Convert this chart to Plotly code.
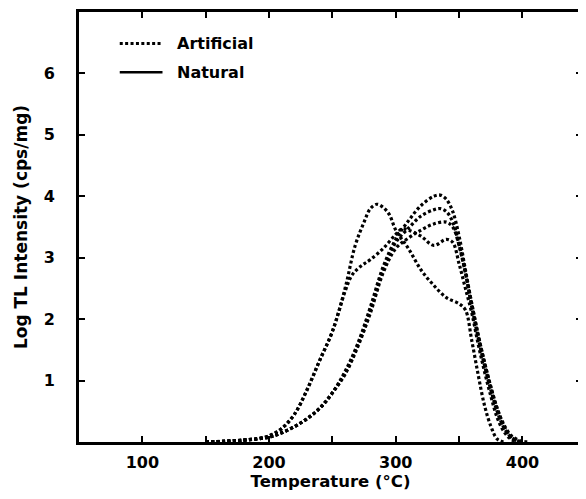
import plotly.graph_objects as go

# Artificial TL glow curves (temperature in C, log intensity)
temp_a = [150, 170, 190, 200, 210, 220, 230, 240, 250, 260, 268, 275, 280, 285, 290, 295, 300,
          310, 320, 330, 340, 350, 355, 360, 365, 370, 375, 380, 385]
log_a = [0.0, 0.02, 0.05, 0.1, 0.22, 0.45, 0.85, 1.33, 1.8, 2.5, 3.2, 3.58, 3.8, 3.87, 3.82, 3.7, 3.45,
         3.15, 2.8, 2.55, 2.35, 2.25, 2.15, 1.65, 1.1, 0.6, 0.26, 0.05, 0.0]

temp_e = [150, 180, 200, 210, 220, 230, 240, 250, 260, 265, 270, 275, 280, 290, 300, 305, 310,
          320, 330, 340, 345, 350, 355, 360, 365, 370, 375, 380, 385, 390, 395]
log_e = [0.0, 0.03, 0.1, 0.22, 0.45, 0.85, 1.33, 1.8, 2.45, 2.7, 2.82, 2.9, 2.97, 3.15, 3.38, 3.47, 3.45,
         3.35, 3.2, 3.3, 3.25, 2.9, 2.5, 2.1, 1.6, 1.15, 0.75, 0.4, 0.18, 0.06, 0.0]

temp_b = [150, 180, 200, 210, 220, 230, 240, 250, 260, 270, 280, 290, 300, 310, 320, 330, 335,
          340, 345, 350, 355, 360, 365, 370, 375, 380, 385, 390, 395, 400, 405]
log_b = [0.0, 0.03, 0.08, 0.15, 0.25, 0.38, 0.55, 0.8, 1.15, 1.6, 2.2, 2.85, 3.3, 3.6, 3.85, 4.0, 4.02,
         3.95, 3.75, 3.35, 2.8, 2.25, 1.75, 1.3, 0.9, 0.55, 0.3, 0.13, 0.05, 0.01, 0.0]

temp_c = [150, 180, 200, 210, 220, 230, 240, 250, 260, 270, 280, 290, 300, 310, 320, 330, 335,
          340, 345, 350, 355, 360, 365, 370, 375, 380, 385, 390, 395, 400]
log_c = [0.0, 0.03, 0.08, 0.15, 0.25, 0.38, 0.55, 0.8, 1.12, 1.58, 2.15, 2.8, 3.25, 3.48, 3.68, 3.78, 3.8,
         3.75, 3.58, 3.2, 2.75, 2.25, 1.75, 1.3, 0.9, 0.55, 0.28, 0.1, 0.02, 0.0]

temp_d = [150, 180, 200, 210, 220, 230, 240, 250, 260, 270, 280, 290, 300, 310, 320, 330, 340,
          345, 350, 355, 360, 365, 370, 375, 380, 385, 390, 395, 400]
log_d = [0.0, 0.03, 0.08, 0.15, 0.25, 0.38, 0.55, 0.8, 1.1, 1.55, 2.1, 2.75, 3.15, 3.32, 3.45, 3.55, 3.58,
         3.5, 3.2, 2.75, 2.2, 1.7, 1.25, 0.85, 0.5, 0.25, 0.1, 0.03, 0.0]

artificial = [(temp_a, log_a), (temp_e, log_e), (temp_b, log_b), (temp_c, log_c), (temp_d, log_d)]

x_ticks = [100, 200, 300, 400]
y_ticks = [1, 2, 3, 4, 5, 6]
legend_labels = ["Artificial", "Natural"]

font_family = "DejaVu Sans, Arial, sans-serif"
dot_dash = "3px,2.4px"

fig = go.Figure()
for t, v in artificial:
    fig.add_trace(go.Scatter(
        x=t, y=v, mode="lines", line_shape="spline",
        line=dict(color="black", width=3.2, dash=dot_dash),
        showlegend=False, hoverinfo="skip",
    ))

axis_style = dict(
    showline=True, linecolor="black", linewidth=2.6, mirror="allticks",
    ticks="inside", ticklen=6, tickwidth=2, tickcolor="black",
    showgrid=False, zeroline=False,
    tickfont=dict(family=font_family, size=16, color="black", weight="bold"),
)

# the page body adds an 8px margin on every side, so keep the figure inside the window
fig.update_layout(
    width=578, height=483,
    margin=dict(l=71, r=1, t=1, b=48),
    paper_bgcolor="white", plot_bgcolor="white",
    font=dict(family=font_family, color="black"),
    xaxis=dict(
        range=[50, 447], tickvals=x_ticks,
        minor=dict(dtick=50, tick0=0, ticks="inside", ticklen=6, tickwidth=2, tickcolor="black"),
        ticklabelstandoff=4,
        title=dict(text="Temperature (°C)", standoff=6,
                   font=dict(family=font_family, size=16.5, color="black", weight="bold")),
        **axis_style,
    ),
    yaxis=dict(
        range=[0, 7], tickvals=y_ticks,
        ticklabelstandoff=18,
        title=dict(text="Log TL Intensity (cps/mg)", standoff=12,
                   font=dict(family=font_family, size=17, color="black", weight="bold")),
        **axis_style,
    ),
    showlegend=False,
)

# legend drawn by hand: line samples + labels
legend_y = [0.927, 0.86]
legend_dash = [dot_dash, "solid"]
for lab, ly, dsh in zip(legend_labels, legend_y, legend_dash):
    fig.add_shape(type="line", xref="paper", yref="paper",
                  x0=0.081, x1=0.166, y0=ly, y1=ly,
                  line=dict(color="black", width=3 if dsh != "solid" else 2.4, dash=dsh))
    fig.add_annotation(xref="paper", yref="paper", x=0.19, y=ly, text=lab,
                       showarrow=False, xanchor="left", yanchor="middle",
                       font=dict(family=font_family, size=16, color="black", weight="bold"))

fig.write_html("out.html")
